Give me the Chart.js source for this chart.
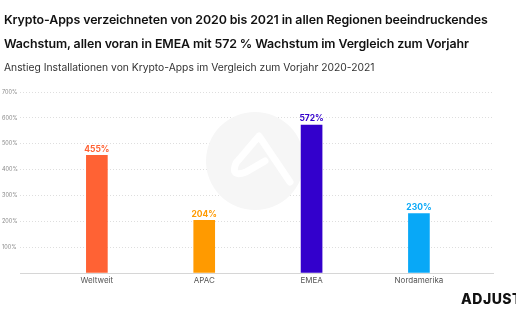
<!DOCTYPE html>
<html>
<head>
<meta charset="utf-8">
<script src="https://cdn.jsdelivr.net/npm/chart.js@4"></script>
<style>
  body { margin: 0; background: #fff; }
  #wrap { position: relative; width: 516px; height: 323px; overflow: hidden; font-family: "Inter", sans-serif; }
  #title { position: absolute; left: 4px; top: 8px; font-size: 12.4px; font-weight: 600; line-height: 24px; color: #111; letter-spacing: -0.1px; white-space: nowrap; }
  #sub { position: absolute; left: 4px; top: 61px; font-size: 10.3px; color: #333; white-space: nowrap; }
  #logo { position: absolute; left: 461px; top: 290px; font-size: 14px; font-weight: 800; color: #111; letter-spacing: 0.5px; }
  canvas { position: absolute; left: 0; top: 0; }
</style>
</head>
<body>
<div id="wrap">
  <canvas id="chart" width="516" height="323"></canvas>
  <div id="title">Krypto-Apps verzeichneten von 2020 bis 2021 in allen Regionen beeindruckendes<br>Wachstum, allen voran in EMEA mit 572 % Wachstum im Vergleich zum Vorjahr</div>
  <div id="sub">Anstieg Installationen von Krypto-Apps im Vergleich zum Vorjahr 2020-2021</div>
  <div id="logo">ADJUST</div>
</div>
<script>
var regionen = ["Weltweit", "APAC", "EMEA", "Nordamerika"];
var anstieg = [455, 204, 572, 230];
var farben = ["#ff6234", "#ff9a00", "#3300cc", "#08a8f7"];
var yTicks = [0, 100, 200, 300, 400, 500, 600, 700];

// faint logo in the background
var watermark = {
  id: "watermark",
  beforeDatasetsDraw: function (chart) {
    var c = chart.ctx;
    c.save();
    c.fillStyle = "#f6f6f6";
    c.beginPath();
    c.arc(255, 161, 49, 0, Math.PI * 2);
    c.fill();
    c.strokeStyle = "#fff";
    c.lineWidth = 7;
    c.lineCap = "round";
    c.lineJoin = "round";
    c.beginPath();
    c.moveTo(290, 182);
    c.lineTo(259, 136);
    c.lineTo(236, 163);
    c.quadraticCurveTo(230, 178, 246, 172);
    c.lineTo(265, 161);
    c.stroke();
    c.restore();
  }
};

var valueLabels = {
  id: "valueLabels",
  afterDatasetsDraw: function (chart) {
    var c = chart.ctx;
    var meta = chart.getDatasetMeta(0);
    c.save();
    c.font = "bold 8.5px Inter, sans-serif";
    c.textAlign = "center";
    c.textBaseline = "bottom";
    meta.data.forEach(function (bar, i) {
      c.fillStyle = farben[i];
      c.fillText(anstieg[i] + "%", bar.x, bar.y - 2);
    });
    c.restore();
  }
};

var chart = new Chart("chart", {
  type: "bar",
  data: {
    datasets: [{
      data: anstieg.map(function (v, i) { return { x: i, y: v }; }),
      backgroundColor: farben,
      barThickness: 21
    }]
  },
  options: {
    responsive: false,
    animation: false,
    layout: { padding: { top: 92, right: 23, left: 2, bottom: 0 } },
    plugins: { legend: { display: false }, tooltip: { enabled: false } },
    scales: {
      x: {
        type: "linear",
        offset: false,
        min: -0.716,
        max: 3.69,
        afterBuildTicks: function (s) {
          s.ticks = regionen.map(function (r, i) { return { value: i }; });
        },
        afterFit: function (s) { s.height = 50; },
        ticks: {
          callback: function (v) { return regionen[v]; },
          color: "#555",
          font: { family: "Inter", size: 8 },
          padding: 3,
          maxRotation: 0
        },
        grid: { display: false, tickLength: 0 },
        border: { display: true, color: "#d6d6d6", width: 1 }
      },
      y: {
        min: 0,
        max: 700,
        afterBuildTicks: function (s) {
          s.ticks = yTicks.map(function (v) { return { value: v }; });
        },
        afterFit: function (s) { s.width = 18; },
        ticks: {
          callback: function (v) { return v === 0 ? "" : v + "%"; },
          color: "#888",
          font: { family: "Inter", size: 5.5 },
          crossAlign: "far",
          padding: 2
        },
        grid: {
          color: function (ctx) { return ctx.tick && ctx.tick.value === 0 ? "rgba(0,0,0,0)" : "#dedede"; },
          tickLength: 0,
          drawTicks: false
        },
        border: { display: false, dash: [1, 2] }
      }
    }
  },
  plugins: [watermark, valueLabels]
});
</script>
</body>
</html>
